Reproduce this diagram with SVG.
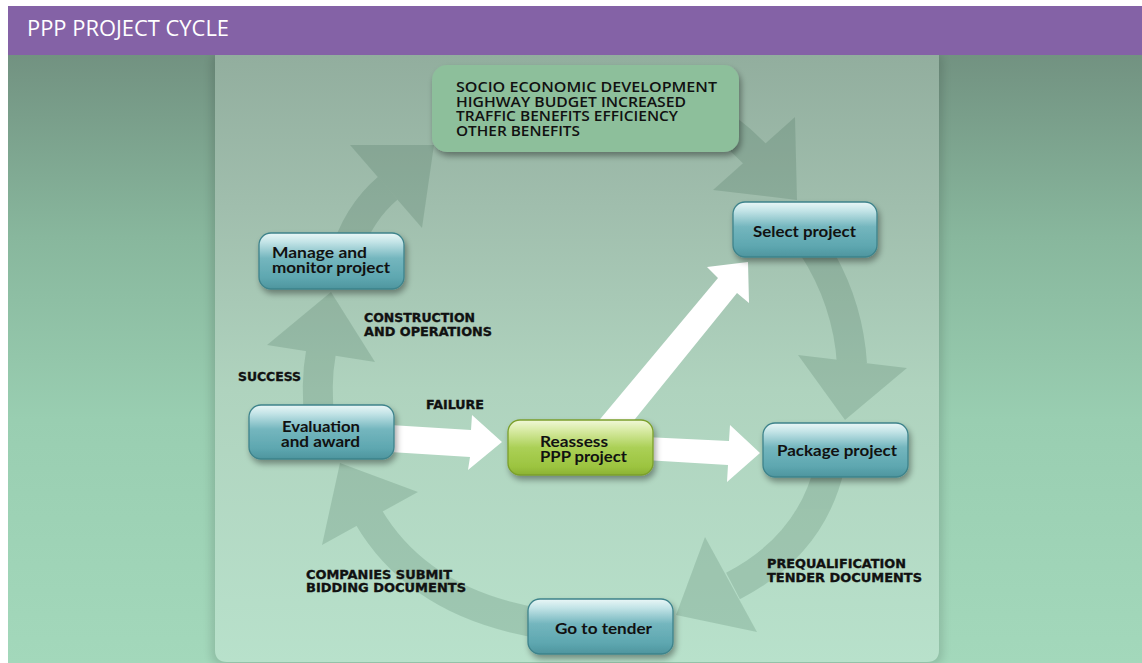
<svg xmlns="http://www.w3.org/2000/svg" width="1142" height="663" viewBox="0 0 1142 663">
  <defs>
    <linearGradient id="outerBg" x1="0" y1="55" x2="0" y2="663" gradientUnits="userSpaceOnUse">
      <stop offset="0" stop-color="#729281"/>
      <stop offset="0.3" stop-color="#88b79d"/>
      <stop offset="0.6" stop-color="#99ceb1"/>
      <stop offset="1" stop-color="#a3d8bb"/>
    </linearGradient>
    <linearGradient id="panelBg" x1="0" y1="55" x2="0" y2="663" gradientUnits="userSpaceOnUse">
      <stop offset="0" stop-color="#92ae9e"/>
      <stop offset="0.25" stop-color="#a0bead"/>
      <stop offset="0.55" stop-color="#afd3be"/>
      <stop offset="1" stop-color="#b8e1cb"/>
    </linearGradient>
    <linearGradient id="tealGloss" x1="0" y1="0" x2="0" y2="1">
      <stop offset="0" stop-color="#eaf7f7"/>
      <stop offset="0.16" stop-color="#c3e4e7"/>
      <stop offset="0.45" stop-color="#74b6be"/>
      <stop offset="0.8" stop-color="#5ea7b0"/>
      <stop offset="1" stop-color="#4e959e"/>
    </linearGradient>
    <linearGradient id="limeGloss" x1="0" y1="0" x2="0" y2="1">
      <stop offset="0" stop-color="#f1f8d8"/>
      <stop offset="0.18" stop-color="#d9eba6"/>
      <stop offset="0.5" stop-color="#abd056"/>
      <stop offset="0.85" stop-color="#9cc440"/>
      <stop offset="1" stop-color="#8bb233"/>
    </linearGradient>
    <filter id="dropShadow" x="-20%" y="-30%" width="150%" height="180%">
      <feGaussianBlur in="SourceAlpha" stdDeviation="3"/>
      <feOffset dx="2" dy="4"/>
      <feComponentTransfer><feFuncA type="linear" slope="0.38"/></feComponentTransfer>
      <feMerge><feMergeNode/><feMergeNode in="SourceGraphic"/></feMerge>
    </filter>
    <filter id="soft" x="-5%" y="-5%" width="110%" height="110%">
      <feGaussianBlur stdDeviation="4"/>
    </filter>
  </defs>
  <style>
    .box { stroke-width: 1.3; }
    .teal { fill: url(#tealGloss); stroke: #3e838b; }
    .lime { fill: url(#limeGloss); stroke: #7b9f2b; }
    .ntext { font-family: Lato, "Open Sans", sans-serif; font-weight: 700; font-size: 16px; fill: #111; }
    .btext { font-family: "Open Sans", Lato, sans-serif; font-weight: 600; font-size: 14px; fill: #111; }
    .label { font-family: "DejaVu Sans", "Liberation Sans", sans-serif; font-weight: bold; font-size: 12.5px; fill: #111; stroke: #111; stroke-width: 0.35; }
    .shaft { fill: none; stroke: #23503a; stroke-width: 30; }
    .head { fill: #23503a; }
    .flow { fill: #ffffff; }
  </style>

  <!-- page background and title bar -->
  <rect x="0" y="0" width="1142" height="663" fill="#ffffff"/>
  <rect x="8" y="55" width="1134" height="608" fill="url(#outerBg)"/>
  <rect x="211" y="52" width="732" height="614" rx="12" fill="#000" opacity="0.12" filter="url(#soft)"/>
  <path d="M215 55 H939 V650 Q939 662 927 662 H227 Q215 662 215 650 Z" fill="url(#panelBg)"/>
  <rect x="8" y="6" width="1134" height="49" fill="#8462a6"/>
  <text x="27" y="36" font-family="'Open Sans', Lato, sans-serif" font-size="21" fill="#ffffff" textLength="202" lengthAdjust="spacingAndGlyphs">PPP PROJECT CYCLE</text>

  <!-- connectors -->
  <g id="connectors">
    <!-- outer project cycle ring -->
    <g id="cycle-ring" opacity="0.16">
      <path class="shaft" d="M320 425 Q315 385 321 352"/>
      <polygon class="head" points="267,345 331,292 375,362"/>
      <path class="shaft" d="M343 262 Q356 215 388 188"/>
      <polygon class="head" points="350,145 434,145 422,228"/>
      <path class="shaft" d="M700 112 Q730 128 756 155"/>
      <polygon class="head" points="795,117 797,200 713,190"/>
      <path class="shaft" d="M812 245 Q848 300 852 364"/>
      <polygon class="head" points="798,355 907,368 845,420"/>
      <path class="shaft" d="M830 465 Q812 545 733 586"/>
      <polygon class="head" points="705,537 757,632 676,615"/>
      <path class="shaft" d="M545 624 Q420 605 368 516"/>
      <polygon class="head" points="418,492 322,545 340,463"/>
    </g>
    <!-- reassessment flows -->
    <g id="reassess-flows">
      <polygon class="flow" points="390,425 471,430 472,415 502,442 468,470 470,457 390,452"/>
      <polygon class="flow" points="645,437 729,441 730,425 760,453 727,482 728,465 645,460"/>
      <polygon class="flow" points="596,424 718,278 707,267 748,262 749,303 737,293 631,424"/>
    </g>
  </g>

  <!-- outcomes -->
  <g id="node-outcomes">
    <rect x="432" y="65" width="307" height="87" rx="15" fill="#8dbf9b" filter="url(#dropShadow)"/>
    <text class="btext" x="456" y="92" textLength="261" lengthAdjust="spacingAndGlyphs">SOCIO ECONOMIC DEVELOPMENT</text>
    <text class="btext" x="456" y="107" textLength="230" lengthAdjust="spacingAndGlyphs">HIGHWAY BUDGET INCREASED</text>
    <text class="btext" x="456" y="121" textLength="222" lengthAdjust="spacingAndGlyphs">TRAFFIC BENEFITS EFFICIENCY</text>
    <text class="btext" x="456" y="136" textLength="124" lengthAdjust="spacingAndGlyphs">OTHER BENEFITS</text>
  </g>

  <g id="node-select">
    <rect class="box teal" x="733" y="202" width="144" height="55" rx="12" filter="url(#dropShadow)"/>
    <text class="ntext" x="753" y="237" textLength="103" lengthAdjust="spacingAndGlyphs">Select project</text>
  </g>

  <g id="node-package">
    <rect class="box teal" x="763" y="423" width="145" height="54" rx="12" filter="url(#dropShadow)"/>
    <text class="ntext" x="777" y="456" textLength="120" lengthAdjust="spacingAndGlyphs">Package project</text>
  </g>

  <g id="node-tender">
    <rect class="box teal" x="528" y="599" width="145" height="55" rx="12" filter="url(#dropShadow)"/>
    <text class="ntext" x="555" y="634" textLength="97" lengthAdjust="spacingAndGlyphs">Go to tender</text>
  </g>

  <g id="node-evaluation">
    <rect class="box teal" x="249" y="405" width="145" height="54" rx="12" filter="url(#dropShadow)"/>
    <text class="ntext" x="282" y="432" textLength="78" lengthAdjust="spacingAndGlyphs">Evaluation</text>
    <text class="ntext" x="281" y="447" textLength="79" lengthAdjust="spacingAndGlyphs">and award</text>
  </g>

  <g id="node-manage">
    <rect class="box teal" x="259" y="233" width="145" height="56" rx="12" filter="url(#dropShadow)"/>
    <text class="ntext" x="272" y="258" textLength="95" lengthAdjust="spacingAndGlyphs">Manage and</text>
    <text class="ntext" x="272" y="273" textLength="118" lengthAdjust="spacingAndGlyphs">monitor project</text>
  </g>

  <g id="node-reassess">
    <rect class="box lime" x="508" y="420" width="145" height="55" rx="12" filter="url(#dropShadow)"/>
    <text class="ntext" x="540" y="447" textLength="68" lengthAdjust="spacingAndGlyphs">Reassess</text>
    <text class="ntext" x="540" y="462" textLength="87" lengthAdjust="spacingAndGlyphs">PPP project</text>
  </g>

  <!-- stage labels -->
  <g id="labels">
    <text class="label" x="364" y="322" textLength="111" lengthAdjust="spacingAndGlyphs">CONSTRUCTION</text>
    <text class="label" x="364" y="336" textLength="128" lengthAdjust="spacingAndGlyphs">AND OPERATIONS</text>
    <text class="label" x="238" y="381" textLength="63" lengthAdjust="spacingAndGlyphs">SUCCESS</text>
    <text class="label" x="426" y="409" textLength="58" lengthAdjust="spacingAndGlyphs">FAILURE</text>
    <text class="label" x="306" y="579" textLength="146" lengthAdjust="spacingAndGlyphs">COMPANIES SUBMIT</text>
    <text class="label" x="306" y="592" textLength="160" lengthAdjust="spacingAndGlyphs">BIDDING DOCUMENTS</text>
    <text class="label" x="767" y="568" textLength="139" lengthAdjust="spacingAndGlyphs">PREQUALIFICATION</text>
    <text class="label" x="767" y="582" textLength="155" lengthAdjust="spacingAndGlyphs">TENDER DOCUMENTS</text>
  </g>
</svg>
